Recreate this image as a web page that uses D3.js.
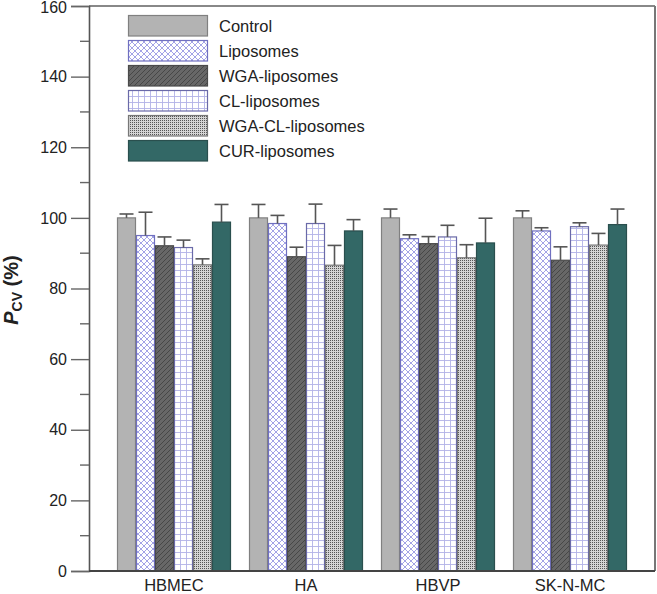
<!DOCTYPE html>
<html><head><meta charset="utf-8">
<script src="https://cdn.jsdelivr.net/npm/d3@7"></script>
<style>body{margin:0;background:#fff}svg{display:block;font-family:Arial,"Liberation Sans",sans-serif}</style>
</head><body><svg id="c" width="657" height="594"></svg>
<script>
const groups = ["HBMEC", "HA", "HBVP", "SK-N-MC"];
const seriesNames = ["Control", "Liposomes", "WGA-liposomes", "CL-liposomes", "WGA-CL-liposomes", "CUR-liposomes"];
const values = [
  [100.0, 100.0, 100.0, 100.0],
  [95.0, 98.4, 94.1, 96.3],
  [92.1, 89.0, 92.7, 88.0],
  [91.6, 98.4, 94.6, 97.5],
  [86.7, 86.6, 88.7, 92.3],
  [98.8, 96.3, 92.9, 98.1]
];
const errors = [
  [1.1, 3.8, 2.5, 2.0],
  [6.6, 2.3, 1.1, 0.9],
  [2.5, 2.7, 2.0, 3.8],
  [2.1, 5.5, 3.3, 1.1],
  [1.7, 5.6, 3.7, 3.3],
  [5.0, 3.2, 7.0, 4.4]
];
const yTicks = [0, 20, 40, 60, 80, 100, 120, 140, 160];
const yMinor = [10, 30, 50, 70, 90, 110, 130, 150];

const svg = d3.select("#c");
const L = 89, R = 655, T = 6, B = 571;

const defs = svg.append("defs");
// Liposomes: crosshatch
let p = defs.append("pattern").attr("id","p1").attr("patternUnits","userSpaceOnUse").attr("width",6).attr("height",6);
p.append("rect").attr("width",6).attr("height",6).attr("fill","#fff");
p.append("path").attr("d","M0,0L6,6M6,0L0,6M-1,5L1,7M5,-1L7,1M-1,1L1,-1M5,7L7,5").attr("stroke","#8c8ce0").attr("stroke-width",0.8);
// WGA: dark diagonal
p = defs.append("pattern").attr("id","p2").attr("patternUnits","userSpaceOnUse").attr("width",5).attr("height",5);
p.append("rect").attr("width",5).attr("height",5).attr("fill","#676767");
p.append("path").attr("d","M0,5L5,0M-1,1L1,-1M4,6L6,4").attr("stroke","#474747").attr("stroke-width",1);
// CL: grid
p = defs.append("pattern").attr("id","p3").attr("patternUnits","userSpaceOnUse").attr("width",6).attr("height",6);
p.append("rect").attr("width",6).attr("height",6).attr("fill","#fff");
p.append("path").attr("d","M0.5,0V6M0,0.5H6").attr("stroke","#b2b2e6").attr("stroke-width",0.9);
// WGA-CL: fine dots
p = defs.append("pattern").attr("id","p4").attr("patternUnits","userSpaceOnUse").attr("width",2).attr("height",2);
p.append("rect").attr("width",2).attr("height",2).attr("fill","#d4d4d4");
p.append("rect").attr("width",1).attr("height",1).attr("fill","#555");

const fills = ["#b3b3b3", "url(#p1)", "url(#p2)", "url(#p3)", "url(#p4)", "#336866"];
const strokes = ["#808080", "#7070c0", "#4a4a4a", "#6a6aa8", "#777", "#2a4f4e"];

const x0 = d3.scaleBand().domain(groups).range([L, R]).paddingInner(18/132).paddingOuter(28/132);
const x1 = d3.scaleBand().domain(seriesNames).range([0, x0.bandwidth()]);
const y = d3.scaleLinear().domain([0, 160]).range([B, T]);

// frame top & right
svg.append("line").attr("x1",L).attr("x2",R).attr("y1",T).attr("y2",T).attr("stroke","#888").attr("stroke-width",2);
svg.append("line").attr("x1",R).attr("x2",R).attr("y1",T).attr("y2",B).attr("stroke","#777").attr("stroke-width",2);

// bars
const data = [];
seriesNames.forEach((s,i)=>groups.forEach((g,j)=>data.push({s,i,g,v:values[i][j],e:errors[i][j]})));
const bars = svg.append("g");
bars.selectAll("rect").data(data).join("rect")
  .attr("x", d=>x0(d.g)+x1(d.s)+0.5)
  .attr("y", d=>y(d.v))
  .attr("width", x1.bandwidth()-1)
  .attr("height", d=>y(0)-y(d.v))
  .attr("fill", d=>fills[d.i])
  .attr("stroke", d=>strokes[d.i]).attr("stroke-width",1.2);

// error bars
const eb = svg.append("g").attr("stroke","#555").attr("stroke-width",1.6);
data.forEach(d=>{
  const cx = x0(d.g)+x1(d.s)+x1.bandwidth()/2;
  eb.append("line").attr("x1",cx).attr("x2",cx).attr("y1",y(d.v)).attr("y2",y(d.v+d.e));
  eb.append("line").attr("x1",cx-7).attr("x2",cx+7).attr("y1",y(d.v+d.e)).attr("y2",y(d.v+d.e));
});

// y axis
const ya = svg.append("g").attr("transform",`translate(${L},0)`)
  .call(d3.axisLeft(y).tickValues(yTicks).tickSize(18).tickPadding(4).tickFormat(d3.format("d")));
ya.select(".domain").attr("stroke","#555").attr("stroke-width",1.6);
ya.selectAll(".tick line").attr("stroke","#666").attr("stroke-width",1.4);
ya.selectAll(".tick text").attr("font-size","16px").attr("fill","#222").attr("font-family","Arial, 'Liberation Sans', sans-serif")
  .attr("dy", d => d === 160 ? "0.42em" : "0.32em");
svg.append("g").selectAll("line").data(yMinor).join("line")
  .attr("x1",L-9).attr("x2",L).attr("y1",d=>y(d)).attr("y2",d=>y(d)).attr("stroke","#666").attr("stroke-width",1.4);

// x axis
const xa = svg.append("g").attr("transform",`translate(0,${B})`)
  .call(d3.axisBottom(x0).tickSize(0).tickPadding(8));
xa.select(".domain").attr("stroke","#444").attr("stroke-width",1.8).attr("d",`M${L},0H${R}`);
xa.selectAll(".tick text").attr("font-size","16.5px").attr("fill","#222").attr("font-family","Arial, 'Liberation Sans', sans-serif");

// y label
const yl = svg.append("text").attr("transform","translate(18,290) rotate(-90)").attr("text-anchor","middle")
  .attr("font-weight","bold").attr("font-size","20px").attr("fill","#222");
yl.append("tspan").attr("font-style","italic").text("P");
yl.append("tspan").attr("font-size","14px").attr("dy","4").text("CV");
yl.append("tspan").attr("dy","-4").text(" (%)");

// legend
const lg = svg.append("g");
seriesNames.forEach((s,i)=>{
  const top = 15.5 + i*25;
  lg.append("rect").attr("x",128.5).attr("y",top).attr("width",79).attr("height",20.5)
    .attr("fill",fills[i]).attr("stroke",i==0?"#808080":strokes[i]).attr("stroke-width",1.2);
  lg.append("text").attr("x",219).attr("y",top+16.5).attr("font-size","16.5px").attr("fill","#222").text(s);
});
</script></body></html>
